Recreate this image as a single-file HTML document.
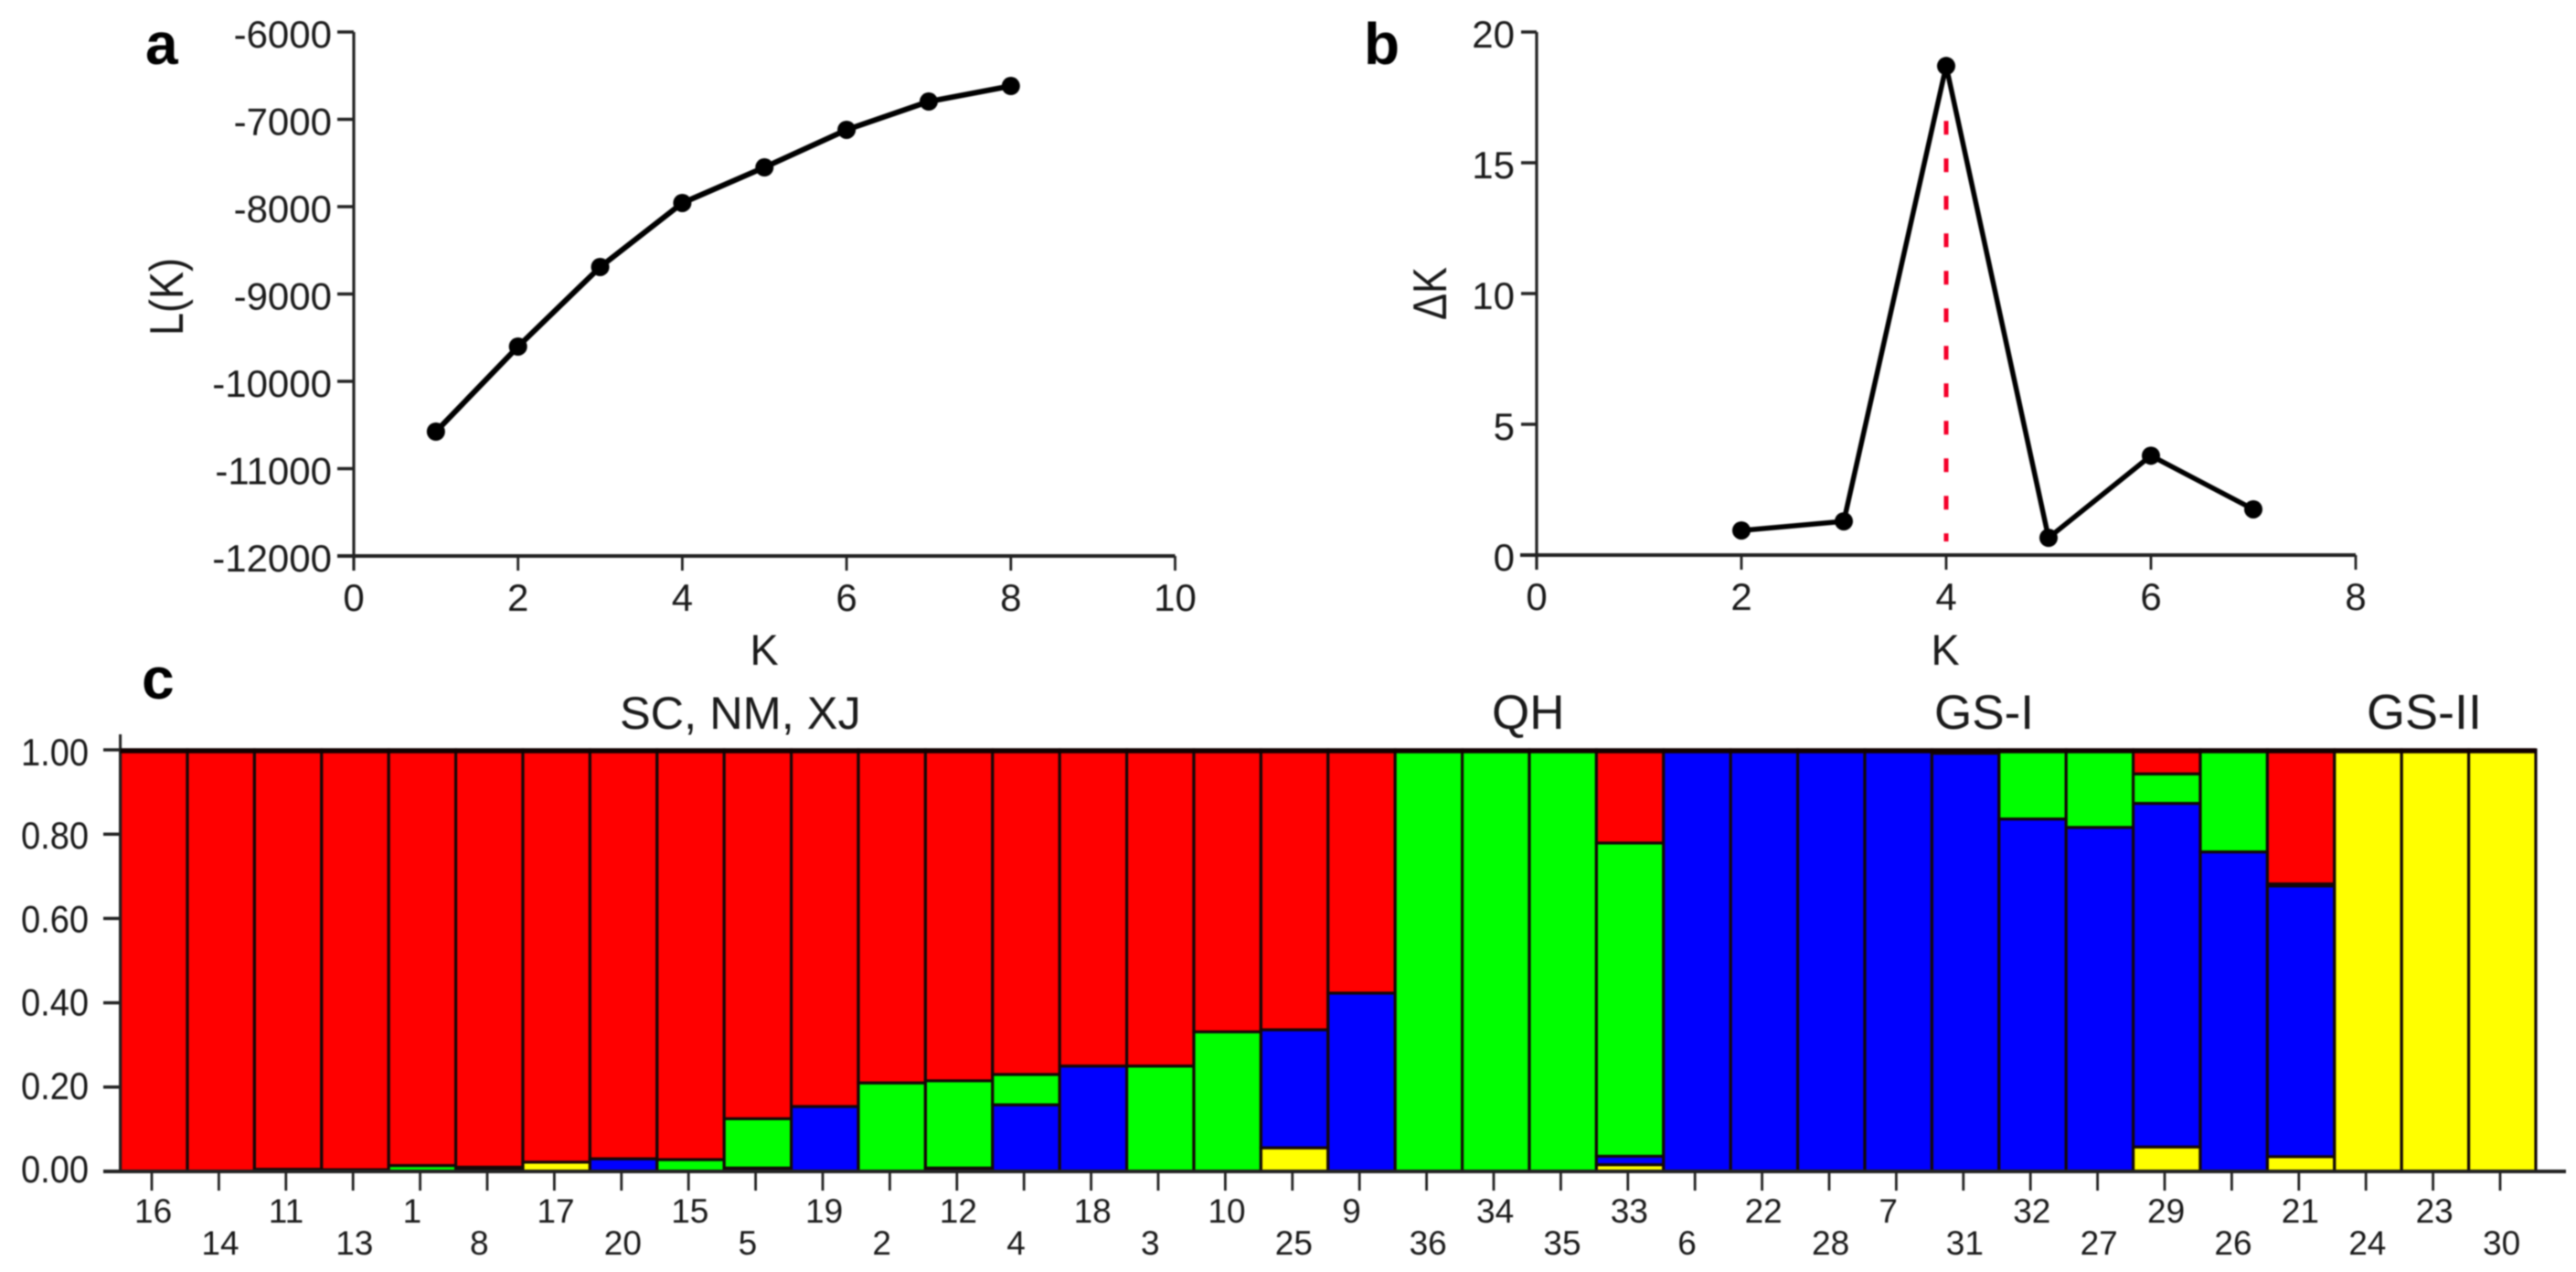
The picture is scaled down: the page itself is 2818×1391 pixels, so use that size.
<!DOCTYPE html>
<html lang="en">
<head>
<meta charset="utf-8">
<title>Population structure analysis</title>
<style>
html,body{margin:0;padding:0;background:#fff;width:2818px;height:1391px;overflow:hidden}
svg{display:block;filter:blur(0.8px)}
text{font-family:"Liberation Sans",Arial,sans-serif;fill:#1a1a1a}
</style>
</head>
<body>
<svg id="chart" xmlns="http://www.w3.org/2000/svg" width="2818" height="1391" viewBox="0 0 2818 1391">
  <rect x="0" y="0" width="2818" height="1391" fill="#fff"/>
  <g id="panelA"></g>
  <g id="panelB"></g>
  <g id="panelC"></g>

  <text x="159" y="70" font-size="64" font-weight="bold" style="fill:#000">a</text>
  <text x="1492" y="70" font-size="64" font-weight="bold" style="fill:#000">b</text>
  <text x="155" y="764" font-size="64" font-weight="bold" style="fill:#000">c</text>

  <text transform="translate(200,367) rotate(-90)" font-size="52" textLength="85" lengthAdjust="spacingAndGlyphs">L(K)</text>
  <text x="836" y="727" text-anchor="middle" font-size="47">K</text>
  <text transform="translate(1582,350) rotate(-90)" font-size="52" textLength="58" lengthAdjust="spacingAndGlyphs">ΔK</text>
  <text x="2128" y="727" text-anchor="middle" font-size="47">K</text>

  <text x="678" y="797" font-size="50.5">SC, NM, XJ</text>
  <text x="1632" y="797" font-size="53">QH</text>
  <text x="2116" y="797" font-size="53">GS-I</text>
  <text x="2589" y="797" font-size="54">GS-II</text>
</svg>

<script>
// Panel a data
const kValuesA = [1, 2, 3, 4, 5, 6, 7, 8];
const lkValues = [-10576, -9602, -8691, -7958, -7550, -7120, -6796, -6618];
const aYTicks = [-6000, -7000, -8000, -9000, -10000, -11000, -12000];
const aXTicks = [0, 2, 4, 6, 8, 10];

// Panel b data
const kValuesB = [2, 3, 4, 5, 6, 7];
const deltaKValues = [0.94, 1.29, 18.7, 0.66, 3.8, 1.75];
const bYTicks = [20, 15, 10, 5, 0];
const bXTicks = [0, 2, 4, 6, 8];
const bestK = 4;
const bestKLineTop = 16.6;
const bestKLineBottom = 0.52;

// Panel c data (stack order bottom to top: yellow, blue, green, red)
const accessions = ['16','14','11','13','1','8','17','20','15','5','19','2','12','4','18','3','10','25','9','36','34','35','33','6','22','28','7','31','32','27','29','26','21','24','23','30'];
const yellowShare = [0,0,0,0,0,0,0.022,0,0,0,0,0,0,0,0,0,0,0.056,0,0,0,0,0.016,0,0,0,0,0,0,0,0.058,0,0.035,1,1,1];
const blueShare = [0,0,0.005,0.004,0,0.006,0,0.03,0,0.008,0.154,0,0.008,0.158,0.25,0,0,0.28,0.423,0,0,0,0.02,1,0.997,0.996,0.996,0.992,0.836,0.816,0.815,0.758,0.642,0,0,0];
const greenShare = [0,0,0,0,0.014,0.004,0,0,0.028,0.117,0,0.21,0.207,0.072,0,0.25,0.331,0,0,1,1,1,0.743,0,0,0,0,0.008,0.164,0.184,0.07,0.242,0.005,0,0,0];
const redShare = [1,1,0.995,0.996,0.986,0.99,0.978,0.97,0.972,0.875,0.846,0.79,0.785,0.77,0.75,0.75,0.669,0.664,0.577,0,0,0,0.221,0,0.003,0.004,0.004,0,0,0,0.057,0,0.318,0,0,0];
const cYTicks = [1, 0.8, 0.6, 0.4, 0.2, 0];

// Axis functions
const xA = k => 387 + (k - 0) * 89.85;
const yA = v => 35 + (-6000 - v) * 0.0955;
const xB = k => 1681 + k * 112;
const yB = v => 607 - v * 28.6;
const xC = i => 131.6 + i * 73.4;
const yC = v => 1281 - v * 461;
const tickC = i => 166 + i * 73.4;

const NS = 'http://www.w3.org/2000/svg';
function make(parent, tag, attrs, content) {
  const el = document.createElementNS(NS, tag);
  for (const key in attrs) el.setAttribute(key, attrs[key]);
  if (content !== undefined) el.textContent = content;
  parent.appendChild(el);
  return el;
}
const AXIS = '#222';
const panelA = document.getElementById('panelA');
const panelB = document.getElementById('panelB');
const panelC = document.getElementById('panelC');
let el;

// ---------- Panel a ----------
el = make(panelA, 'line', {x1: xA(0), x2: xA(0), y1: yA(-6000), y2: yA(-12000) + 16, stroke: AXIS, 'stroke-width': 3.2});


el = make(panelA, 'line', {x1: xA(0) - 18, x2: xA(10), y1: yA(-12000), y2: yA(-12000), stroke: AXIS, 'stroke-width': 4});


aYTicks.forEach(v => {
  el = make(panelA, 'line', {x1: xA(0) - 18, x2: xA(0), y1: yA(v), y2: yA(v), stroke: AXIS, 'stroke-width': 3.5});
  
  
  el = make(panelA, 'text', {x: 363, y: yA(v) + 17, 'text-anchor': 'end', 'font-size': 42}, String(v));
  
  
});
aXTicks.forEach(v => {
  el = make(panelA, 'line', {x1: xA(v), x2: xA(v), y1: yA(-12000), y2: yA(-12000) + 16, stroke: AXIS, 'stroke-width': 2.8});
  
  
  el = make(panelA, 'text', {x: xA(v), y: 668, 'text-anchor': 'middle', 'font-size': 42}, String(v));
  
  
});
el = make(panelA, 'polyline', {points: kValuesA.map((k, i) => xA(k) + ',' + yA(lkValues[i])).join(' '), fill: 'none', stroke: '#000', 'stroke-width': 6, 'stroke-linejoin': 'round'});


kValuesA.forEach((k, i) => {
  el = make(panelA, 'circle', {cx: xA(k), cy: yA(lkValues[i]), r: 10, fill: '#000'});
  
  
});

// ---------- Panel b ----------
el = make(panelB, 'line', {x1: xB(0), x2: xB(0), y1: yB(20), y2: yB(0) + 16, stroke: AXIS, 'stroke-width': 3.2});


el = make(panelB, 'line', {x1: xB(0) - 18, x2: xB(8), y1: yB(0), y2: yB(0), stroke: AXIS, 'stroke-width': 4});


bYTicks.forEach(v => {
  el = make(panelB, 'line', {x1: xB(0) - 17, x2: xB(0), y1: yB(v), y2: yB(v), stroke: AXIS, 'stroke-width': 3.5});
  
  
  el = make(panelB, 'text', {x: 1657, y: yB(v) + 17, 'text-anchor': 'end', 'font-size': 42}, String(v));
  
  
});
bXTicks.forEach(v => {
  el = make(panelB, 'line', {x1: xB(v), x2: xB(v), y1: yB(0), y2: yB(0) + 16, stroke: AXIS, 'stroke-width': 2.8});
  
  
  el = make(panelB, 'text', {x: xB(v), y: 667, 'text-anchor': 'middle', 'font-size': 42}, String(v));
  
  
});
el = make(panelB, 'line', {x1: xB(bestK), x2: xB(bestK), y1: yB(bestKLineTop), y2: yB(bestKLineBottom), stroke: '#f5002a', 'stroke-width': 5, 'stroke-dasharray': '15 26'});


el = make(panelB, 'polyline', {points: kValuesB.map((k, i) => xB(k) + ',' + yB(deltaKValues[i])).join(' '), fill: 'none', stroke: '#000', 'stroke-width': 5.5, 'stroke-linejoin': 'round'});


kValuesB.forEach((k, i) => {
  el = make(panelB, 'circle', {cx: xB(k), cy: yB(deltaKValues[i]), r: 10, fill: '#000'});
  
  
});

// ---------- Panel c ----------
const clusterSeries = [
  {name: 'yellow', color: '#ffff00', values: yellowShare},
  {name: 'blue', color: '#0000ff', values: blueShare},
  {name: 'green', color: '#00ff00', values: greenShare},
  {name: 'red', color: '#ff0000', values: redShare}
];
accessions.forEach((label, i) => {
  let cumulative = 0;
  clusterSeries.forEach(series => {
    const share = series.values[i];
    if (share <= 0) return;
    const top = cumulative + share;
    el = make(panelC, 'rect', {x: xC(i), y: yC(top), width: xC(i + 1) - xC(i), height: yC(cumulative) - yC(top), fill: series.color, stroke: '#140808', 'stroke-width': 3.2});
    
    
    cumulative = top;
  });
  el = make(panelC, 'line', {x1: tickC(i), x2: tickC(i), y1: yC(0), y2: yC(0) + 21, stroke: AXIS, 'stroke-width': 2.8});
  
  
  el = make(panelC, 'text', {x: tickC(i) - 19, y: i % 2 === 0 ? 1337 : 1372, 'font-size': 37}, label);
  
  
});
el = make(panelC, 'line', {x1: xC(0), x2: xC(0), y1: 803, y2: yC(0), stroke: AXIS, 'stroke-width': 3});


el = make(panelC, 'line', {x1: 113, x2: 2807, y1: yC(0), y2: yC(0), stroke: AXIS, 'stroke-width': 4});


el = make(panelC, 'line', {x1: xC(0), x2: xC(accessions.length), y1: yC(1) + 1, y2: yC(1) + 1, stroke: '#100', 'stroke-width': 5.5});


cYTicks.forEach(v => {
  el = make(panelC, 'line', {x1: 113, x2: xC(0), y1: yC(v), y2: yC(v), stroke: AXIS, 'stroke-width': 3.5});
  
  
  el = make(panelC, 'text', {x: 23, y: yC(v) + 12 + 5 * v, 'font-size': 42, textLength: 74, lengthAdjust: 'spacingAndGlyphs'}, v.toFixed(2));
  
  
});
</script>
</body>
</html>
